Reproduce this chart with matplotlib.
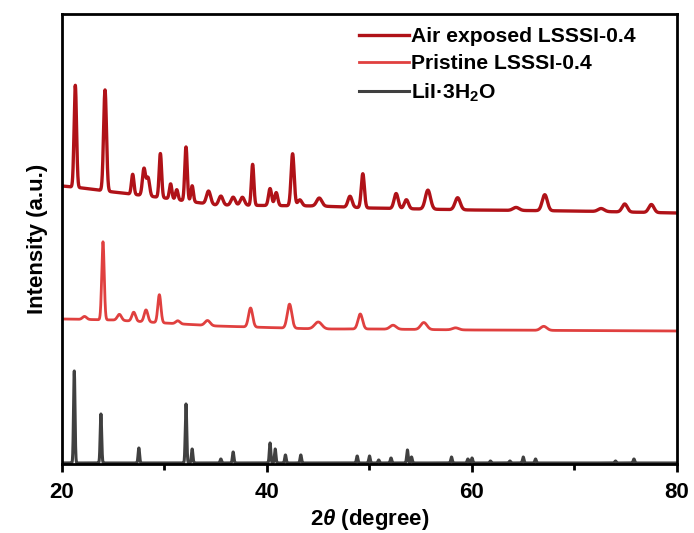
import numpy as np
import matplotlib
matplotlib.use("Agg")
import matplotlib.pyplot as plt

plt.rcParams["font.family"] = ["Liberation Sans", "DejaVu Sans"]
plt.rcParams["font.weight"] = "bold"
plt.rcParams["mathtext.fontset"] = "custom"
plt.rcParams["mathtext.rm"] = "Liberation Sans:bold"
plt.rcParams["mathtext.it"] = "Liberation Sans:bold:italic"
plt.rcParams["mathtext.bf"] = "Liberation Sans:bold"

# Air exposed LSSSI-0.4 (offset trace)
air_base_x = [20, 22, 25, 30, 35, 45, 50, 60, 70, 80]
air_base_y = [278, 276, 272, 266, 259, 258, 256, 254, 253, 251]
air_pos = [21.3, 24.2, 26.9, 28.0, 28.4, 29.6, 30.6, 31.2, 32.1, 32.7, 34.3, 35.5, 36.7, 37.6,
           38.6, 40.3, 40.9, 42.5, 43.2, 45.1, 48.1, 49.35, 52.6, 53.6, 55.7, 58.6, 64.3,
           67.1, 72.6, 74.9, 77.5]
air_h = [102, 101, 20, 27, 18, 44, 15, 10, 54, 16, 13, 9, 8, 8,
         41, 17, 13, 52, 6, 8, 11, 34, 15, 9, 19, 12, 3,
         16, 3, 8, 8]
air_w = [0.12, 0.14, 0.12, 0.15, 0.15, 0.12, 0.12, 0.12, 0.12, 0.12, 0.2, 0.2, 0.2, 0.2,
         0.12, 0.15, 0.15, 0.15, 0.2, 0.25, 0.2, 0.15, 0.2, 0.2, 0.25, 0.25, 0.3,
         0.25, 0.3, 0.25, 0.25]

# Pristine LSSSI-0.4
pri_base_x = [20, 25, 30, 35, 45, 50, 60, 80]
pri_base_y = [145, 144, 141, 138, 135, 135, 134, 133]
pri_pos = [22.2, 24.0, 25.6, 27.0, 28.2, 29.5, 31.3, 34.2, 38.4, 42.2, 45.0, 49.1,
           52.3, 55.3, 58.4, 67.0]
pri_h = [3, 78, 6, 9, 12, 28, 3, 5, 19, 24, 7, 15, 4, 7, 2, 4]
pri_w = [0.2, 0.12, 0.2, 0.18, 0.18, 0.15, 0.2, 0.25, 0.2, 0.22, 0.35, 0.22,
         0.3, 0.3, 0.3, 0.3]

# LiI·3H2O reference
lii_pos = [21.2, 23.8, 27.5, 32.1, 32.7, 35.5, 36.7, 40.3, 40.8, 41.8, 43.3, 48.8, 50.0,
           50.9, 52.1, 53.7, 54.1, 58.0, 59.6, 60.0, 61.8, 63.7, 65.0, 66.2, 74.0, 75.8]
lii_h = [92, 49, 15, 59, 14, 4, 11, 20, 14, 8, 8, 7, 7,
         3, 5, 13, 6, 6, 4, 5, 2, 2, 6, 4, 2, 4]
lii_base = 1.0


def pattern(x, pos, h, w):
    y = np.zeros_like(x)
    for p, a, s in zip(pos, h, w):
        y += a * np.exp(-0.5 * ((x - p) / s) ** 2)
    return y


x = np.linspace(20, 80, 6001)
y_air = np.interp(x, air_base_x, air_base_y) + pattern(x, air_pos, air_h, air_w)
y_pri = np.interp(x, pri_base_x, pri_base_y) + pattern(x, pri_pos, pri_h, pri_w)
y_lii = lii_base + pattern(x, lii_pos, lii_h, [0.07] * len(lii_pos))

fig = plt.figure(figsize=(6.94, 5.33), dpi=100)
ax = fig.add_axes([0.0893, 0.1295, 0.8862, 0.8442])

ax.plot(x, y_air, color="#B01218", lw=2.4, label="Air exposed LSSSI-0.4")
ax.plot(x, y_pri, color="#E0403F", lw=2.0, label="Pristine LSSSI-0.4")
ax.plot(x, y_lii, color="#404040", lw=2.2, label="LiI·3H$_2$O")

ax.set_xlim(20, 80)
ax.set_ylim(0, 450)
ax.set_yticks([])
ax.set_xticks([20, 40, 60, 80])
ax.set_xticks([30, 50, 70], minor=True)
ax.tick_params(axis="x", which="major", length=6, width=2, labelsize=16, pad=7)
ax.tick_params(axis="x", which="minor", length=4, width=2)
for sp in ax.spines.values():
    sp.set_linewidth(2)

ax.set_xlabel(r"2$\it{\theta}$ (degree)", fontsize=16, fontweight="bold", labelpad=3)
ax.set_ylabel("Intensity (a.u.)", fontsize=16, fontweight="bold", labelpad=10)

ax.legend(loc="upper left", bbox_to_anchor=(0.455, 1.008), frameon=False, fontsize=15.2,
          handlelength=2.4, handletextpad=0.1, labelspacing=0.38, borderpad=0.3)

fig.savefig("out.png", dpi=100)
